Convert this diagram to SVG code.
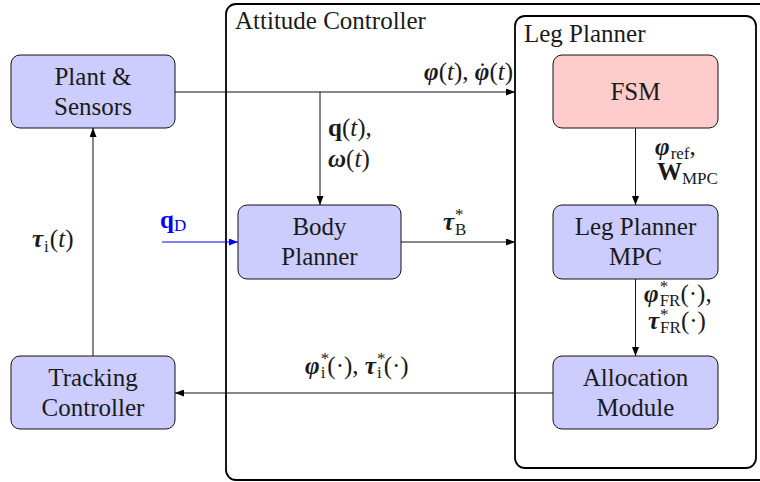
<svg xmlns="http://www.w3.org/2000/svg" width="760" height="482" viewBox="0 0 760 482" font-family="Liberation Serif, Times New Roman, serif">
<defs>
<marker id="ah" markerUnits="userSpaceOnUse" markerWidth="9" markerHeight="7" refX="9" refY="3.5" orient="auto">
<path d="M0,0 L9,3.5 L0,7 z" fill="#000"/>
</marker>
<marker id="ahb" markerUnits="userSpaceOnUse" markerWidth="9" markerHeight="7" refX="9" refY="3.5" orient="auto">
<path d="M0,0 L9,3.5 L0,7 z" fill="#0000ff"/>
</marker>
<style>
.box{fill:#ccccff;stroke:#111;stroke-width:1}
.fsm{fill:#ffcccc;stroke:#111;stroke-width:1}
.cont{fill:none;stroke:#000;stroke-width:1.8}
.m{font-size:25px;fill:#1a1a1a}
.bi{font-weight:bold;font-style:italic}
.i{font-style:italic}
.b{font-weight:bold}
.s{font-size:17px}
.edge{stroke:#111;stroke-width:1;fill:none;marker-end:url(#ah)}
</style>
</defs>

<g id="attitude-controller">
<rect class="cont" x="226" y="4" width="550" height="476" rx="10"/>
<text font-family="Liberation Serif" font-size="25" fill="#1a1a1a" x="235" y="29"><tspan font-family="Liberation Serif">Attitude Controller</tspan></text>
</g>
<g id="leg-planner">
<rect class="cont" x="515" y="16" width="241" height="452" rx="10"/>
<text font-family="Liberation Serif" font-size="25" fill="#1a1a1a" x="524" y="42"><tspan font-family="Liberation Serif">Leg Planner</tspan></text>
</g>

<g id="plant">
<rect class="box" x="11" y="55" width="164" height="73" rx="9"/>
<text font-family="Liberation Serif" font-size="25" fill="#1a1a1a" text-anchor="middle" x="93" y="85"><tspan font-family="Liberation Serif">Plant &amp;</tspan></text>
<text font-family="Liberation Serif" font-size="25" fill="#1a1a1a" text-anchor="middle" x="93" y="115"><tspan font-family="Liberation Serif">Sensors</tspan></text>
</g>
<g id="tracking">
<rect class="box" x="11" y="356" width="164" height="73" rx="9"/>
<text font-family="Liberation Serif" font-size="25" fill="#1a1a1a" text-anchor="middle" x="93" y="386"><tspan font-family="Liberation Serif">Tracking</tspan></text>
<text font-family="Liberation Serif" font-size="25" fill="#1a1a1a" text-anchor="middle" x="93" y="416"><tspan font-family="Liberation Serif">Controller</tspan></text>
</g>
<g id="body-planner">
<rect class="box" x="238" y="205" width="163" height="74" rx="9"/>
<text font-family="Liberation Serif" font-size="25" fill="#1a1a1a" text-anchor="middle" x="319.5" y="235"><tspan font-family="Liberation Serif">Body</tspan></text>
<text font-family="Liberation Serif" font-size="25" fill="#1a1a1a" text-anchor="middle" x="319.5" y="265"><tspan font-family="Liberation Serif">Planner</tspan></text>
</g>
<g id="fsm">
<rect class="fsm" x="553" y="55" width="165" height="73" rx="9"/>
<text font-family="Liberation Serif" font-size="25" fill="#1a1a1a" text-anchor="middle" x="635.5" y="100"><tspan font-family="Liberation Serif">FSM</tspan></text>
</g>
<g id="leg-planner-mpc">
<rect class="box" x="553" y="205" width="165" height="74" rx="9"/>
<text font-family="Liberation Serif" font-size="25" fill="#1a1a1a" text-anchor="middle" x="635.5" y="235"><tspan font-family="Liberation Serif">Leg Planner</tspan></text>
<text font-family="Liberation Serif" font-size="25" fill="#1a1a1a" text-anchor="middle" x="635.5" y="265"><tspan font-family="Liberation Serif">MPC</tspan></text>
</g>
<g id="allocation">
<rect class="box" x="553" y="356" width="165" height="73" rx="9"/>
<text font-family="Liberation Serif" font-size="25" fill="#1a1a1a" text-anchor="middle" x="635.5" y="386"><tspan font-family="Liberation Serif">Allocation</tspan></text>
<text font-family="Liberation Serif" font-size="25" fill="#1a1a1a" text-anchor="middle" x="635.5" y="416"><tspan font-family="Liberation Serif">Module</tspan></text>
</g>

<g id="connectors">
<path class="edge" d="M175,92 H515"/>
<path class="edge" d="M320,92 V205"/>
<path class="edge" d="M93,356 V128"/>
<path d="M162,242 H238" stroke="#0000ff" stroke-width="1.2" fill="none" marker-end="url(#ahb)"/>
<path class="edge" d="M401,242 H515"/>
<path class="edge" d="M635.5,128 V205"/>
<path class="edge" d="M635.5,279 V356"/>
<path class="edge" d="M553,393 H175"/>

<text class="m" font-family="Liberation Serif" x="513" y="80" text-anchor="end"><tspan class="bi">φ</tspan>(<tspan class="i">t</tspan>),   <tspan dx="3.5">˙</tspan><tspan class="bi" dx="-11.8">φ</tspan>(<tspan class="i">t</tspan>)</text>
<text class="m" font-family="Liberation Serif" x="328" y="136"><tspan class="b">q</tspan>(<tspan class="i">t</tspan>),</text>
<text class="m" font-family="Liberation Serif" x="328" y="167"><tspan class="bi">ω</tspan>(<tspan class="i">t</tspan>)</text>
<text class="m" font-family="Liberation Serif" x="32" y="247"><tspan class="bi">τ</tspan><tspan class="s" dx="1" dy="5">i</tspan><tspan dx="1" dy="-5">(</tspan><tspan class="i">t</tspan>)</text>
<text class="m" font-family="Liberation Serif" x="160" y="228" style="fill:#0000ff"><tspan class="b">q</tspan><tspan class="s" dy="3">D</tspan></text>
<text class="m" font-family="Liberation Serif" x="443" y="230"><tspan class="bi">τ</tspan><tspan class="s" dx="1" dy="-10">*</tspan><tspan class="s" dx="-8.5" dy="15">B</tspan></text>
<text class="m" font-family="Liberation Serif" x="655" y="155"><tspan class="bi">φ</tspan><tspan class="s" dx="1" dy="4">ref</tspan><tspan dy="-4">,</tspan></text>
<text class="m" font-family="Liberation Serif" x="657" y="180"><tspan class="b">W</tspan><tspan class="s" dy="4">MPC</tspan></text>
<text class="m" font-family="Liberation Serif" x="644" y="302"><tspan class="bi">φ</tspan><tspan class="s" dx="1" dy="-10">*</tspan><tspan class="s" dx="-8.5" dy="14">FR</tspan><tspan dy="-4">(·),</tspan></text>
<text class="m" font-family="Liberation Serif" x="648" y="329"><tspan class="bi">τ</tspan><tspan class="s" dx="1" dy="-9">*</tspan><tspan class="s" dx="-8.5" dy="13">FR</tspan><tspan dy="-4">(·)</tspan></text>
<text class="m" font-family="Liberation Serif" x="305" y="374"><tspan class="bi">φ</tspan><tspan class="s" dx="1" dy="-10">*</tspan><tspan class="s" dx="-8.5" dy="14">i</tspan><tspan dx="2" dy="-4">(·), </tspan><tspan class="bi">τ</tspan><tspan class="s" dx="1" dy="-10">*</tspan><tspan class="s" dx="-8.5" dy="14">i</tspan><tspan dx="2" dy="-4">(·)</tspan></text>
</g>
</svg>
